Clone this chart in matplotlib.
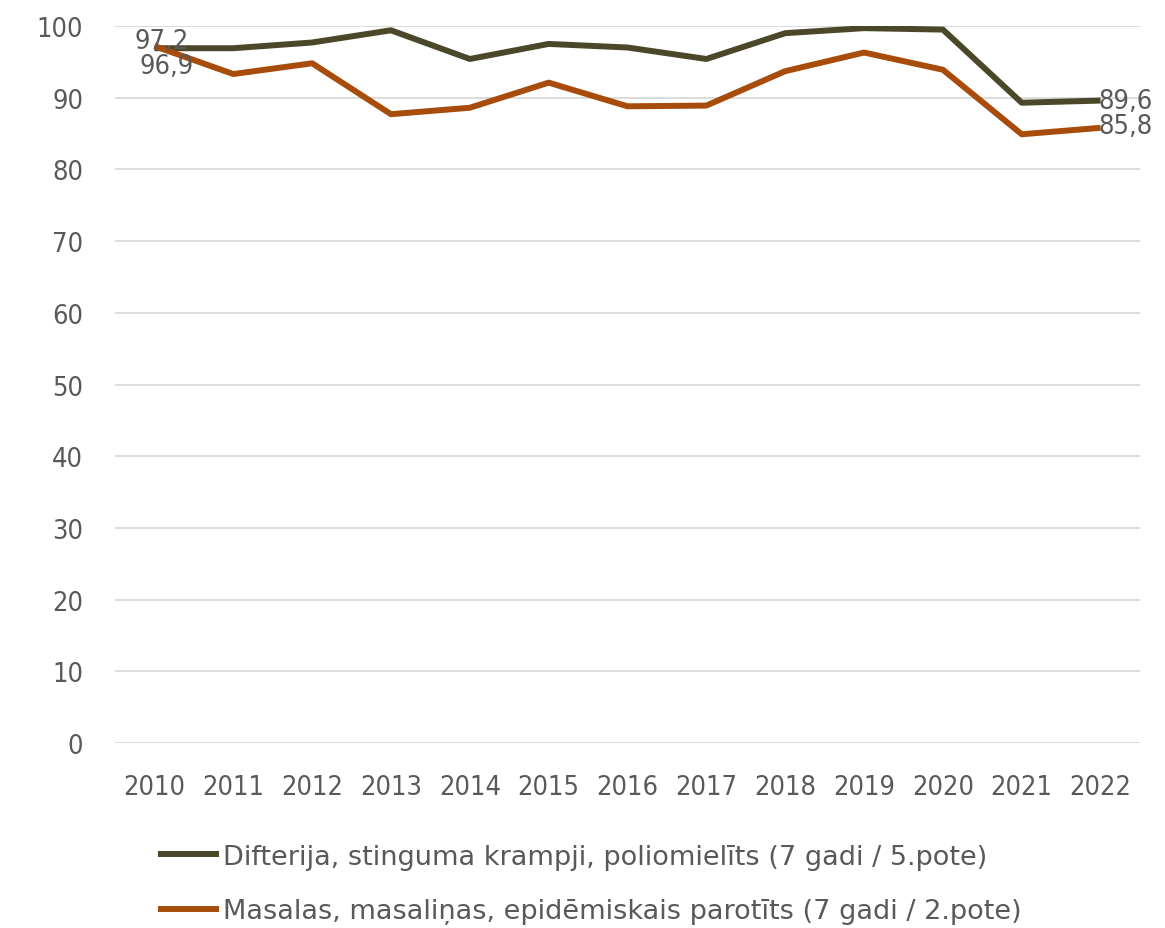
import matplotlib
matplotlib.use("Agg")
import matplotlib.pyplot as plt
from matplotlib.font_manager import FontProperties

plt.rcParams['font.family'] = ['DejaVu Sans']
plt.rcParams['font.stretch'] = 'condensed'

years = ['2010', '2011', '2012', '2013', '2014', '2015', '2016',
         '2017', '2018', '2019', '2020', '2021', '2022']
dtp = [96.9, 96.9, 97.7, 99.4, 95.4, 97.5, 97.0, 95.4, 99.0, 99.7, 99.5, 89.3, 89.6]
mmr = [97.2, 93.3, 94.8, 87.7, 88.6, 92.1, 88.8, 88.9, 93.7, 96.3, 93.9, 84.9, 85.8]
names = ['Difterija, stinguma krampji, poliomielīts (7 gadi / 5.pote)',
         'Masalas, masaliņas, epidēmiskais parotīts (7 gadi / 2.pote)']

text_color = '#595959'
c_dark = '#4b4829'
c_orange = '#a84c0c'
fs = 19.5

fig = plt.figure(figsize=(11.65, 9.29), dpi=100)
ax = fig.add_axes([115 / 1165, 1 - 744 / 929, 1025 / 1165, 717 / 929])

x = list(range(len(years)))
ax.plot(x, dtp, color=c_dark, lw=4.3, label=names[0], solid_capstyle='butt')
ax.plot(x, mmr, color=c_orange, lw=4.3, label=names[1], solid_capstyle='butt')

ax.set_xlim(-0.5, 12.5)
ax.set_ylim(0, 100)
ax.set_yticks(range(0, 101, 10))
ax.set_xticks(x)
ax.set_xticklabels(years)
ax.grid(axis='y', color='#d9d9d9', lw=1.3)
ax.set_axisbelow(True)
for s in ax.spines.values():
    s.set_visible(False)
ax.tick_params(length=0, colors=text_color, labelsize=fs)
ax.tick_params(axis='y', pad=23)
ax.tick_params(axis='x', pad=22)

# data labels at start and end
def lab(v):
    return f"{v:.1f}".replace('.', ',')

ax.text(0.09, 97.9, lab(mmr[0]), ha='center', va='center', fontsize=fs, color=text_color)
ax.text(0.15, 94.4, lab(dtp[0]), ha='center', va='center', fontsize=fs, color=text_color)
ax.text(12.32, 89.5, lab(dtp[-1]), ha='center', va='center', fontsize=fs, color=text_color)
ax.text(12.31, 86.05, lab(mmr[-1]), ha='center', va='center', fontsize=fs, color=text_color)

leg_font = FontProperties(family='DejaVu Sans', size=fs, stretch='normal')
leg = fig.legend(loc='center left', bbox_to_anchor=(134 / 1165, 1 - 885 / 929),
                 frameon=False, prop=leg_font, handlelength=2.25, handletextpad=0.12,
                 labelspacing=1.05, labelcolor=text_color)

fig.savefig('out.png', dpi=100)
